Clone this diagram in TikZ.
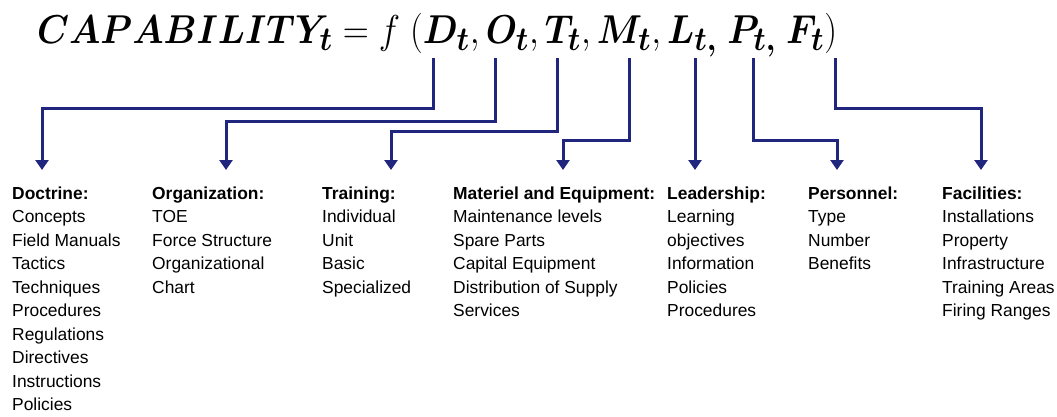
\documentclass[tikz,border=0pt]{standalone}
\usepackage[no-math]{fontspec}
\usepackage{amsmath}
\usepackage{bm}
\usepackage{tikz}
\setmainfont{Liberation Sans}
\usetikzlibrary{arrows.meta}
\definecolor{linkblue}{RGB}{32,38,125}

\begin{document}
\begin{tikzpicture}[x=1pt,y=-1pt,
  link/.style={draw=linkblue, line width=3pt, -{Triangle[width=13pt,length=10pt]}},
  col/.style={anchor=north west, inner sep=0pt, align=left, font=\fontsize{17.4}{23.5}\selectfont}]
\useasboundingbox (0,0) rectangle (1057,416);

% EQUATION
  \node[anchor=base west, inner sep=0pt, font=\Huge] (eq) at (37,43)
    {\scalebox{1.45}[1.62]{$\bm{CAPABILITY_t} = f\ (\bm{D_t},\bm{O_t},\bm{T_t},\bm{M_t},\bm{L_{t,}}\;\bm{P_{t,}}\;\bm{F_t})$}};

% COLUMNS
  \node[col] (doct) at (12,186.5) {\textbf{Doctrine:}\\Concepts\\Field Manuals\\Tactics\\Techniques\\Procedures\\Regulations\\Directives\\Instructions\\Policies};
  \node[col] (orga) at (152,186.5) {\textbf{Organization:}\\TOE\\Force Structure\\Organizational\\Chart};
  \node[col] (trai) at (322,186.5) {\textbf{Training:}\\Individual\\Unit\\Basic\\Specialized};
  \node[col] (mate) at (453,186.5) {\textbf{Materiel and Equipment:}\\Maintenance levels\\Spare Parts\\Capital Equipment\\Distribution of Supply\\Services};
  \node[col] (lead) at (667,186.5) {\textbf{Leadership:}\\Learning\\objectives\\Information\\Policies\\Procedures};
  \node[col] (pers) at (808,186.5) {\textbf{Personnel:}\\Type\\Number\\Benefits};
  \node[col] (faci) at (942,186.5) {\textbf{Facilities:}\\Installations\\Property\\Infrastructure\\Training Areas\\Firing Ranges};

% ARROWS
  \foreach \n/\sx/\lvl/\tx in {D/433/108/42, O/495/121/226, T/557/131/391, M/629/140/563,
                               L/695/140/695, P/753/140/837, F/835/108/981}
  {
    \coordinate (s\n) at (\sx,58);
    \coordinate (t\n) at (\tx,170);
    \draw[link] (s\n) -- (\sx,\lvl) -| (t\n);
  }

\end{tikzpicture}
\end{document}
